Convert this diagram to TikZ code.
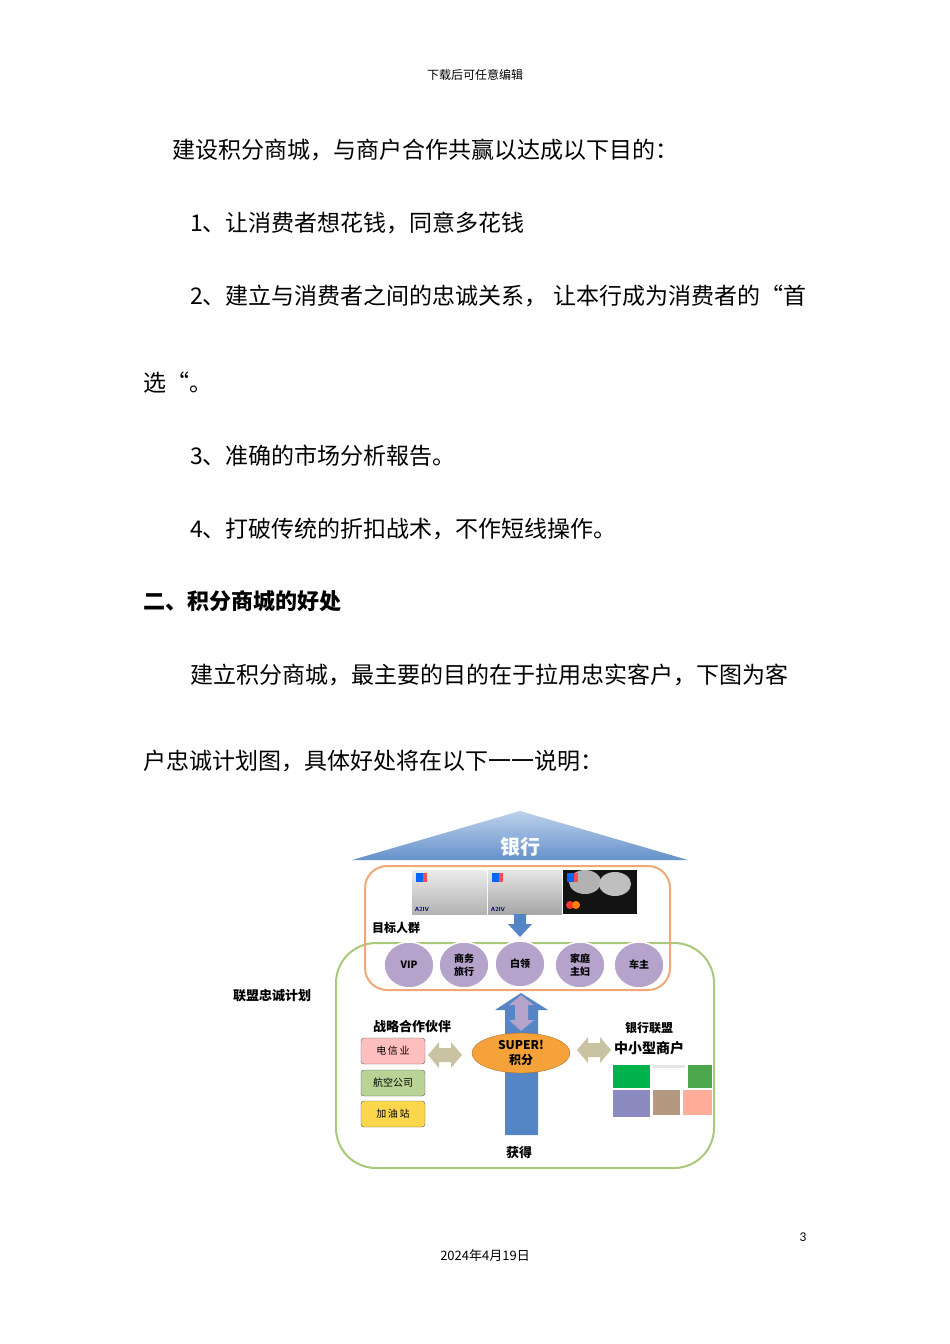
\documentclass[tikz,border=0pt]{standalone}
\usepackage{fontspec}
\setmainfont{Lato}
\newfontfamily\cjk{Noto Sans CJK SC}
\usetikzlibrary{shapes.geometric}
\definecolor{tblue}{HTML}{8FB3DE}
\definecolor{aorange}{HTML}{F0A878}
\definecolor{agreen}{HTML}{A8C87A}
\definecolor{elfill}{HTML}{B5A3CC}
\definecolor{ablue}{HTML}{5585C5}
\definecolor{beige}{HTML}{C9C3A2}
\definecolor{sorange}{HTML}{F6A23A}
\tikzset{
 body/.style={anchor=west,font=\cjk\fontsize{23}{26}\selectfont,inner sep=0},
 pill/.style={ellipse,draw=white,line width=1.5pt,fill=elfill,minimum width=50pt,minimum height=46pt,font=\cjk\bfseries\fontsize{10}{13}\selectfont,align=center,inner sep=0},
 pbox/.style={draw=gray!70!black,rounded corners=3pt,minimum width=64pt,minimum height=26pt,font=\cjk\fontsize{10}{12}\selectfont,inner sep=0},
 lbl/.style={font=\cjk\bfseries\fontsize{13}{15}\selectfont,inner sep=0},
}
\begin{document}
\begin{tikzpicture}[x=1pt,y=-1pt]
\useasboundingbox (0,0) rectangle (950,1344);
\node (hdr) at (475,75) {\cjk\fontsize{12}{14}\selectfont 下载后可任意编辑};
\node[body] (l1) at (172,150) {建设积分商城，与商户合作共赢以达成以下目的：};
\node[body] (l2) at (190,223) {1、让消费者想花钱，同意多花钱};
\node[body] (l3) at (190,296) {2、建立与消费者之间的忠诚关系， 让本行成为消费者的“首};
\node[body] (l4) at (143,383) {选“。};
\node[body] (l5) at (190,456) {3、准确的市场分析報告。};
\node[body] (l6) at (190,529) {4、打破传统的折扣战术，不作短线操作。};
\node[body,font=\cjk\bfseries\fontsize{22}{26}\selectfont] (h2) at (143,601) {二、积分商城的好处};
\node[body] (l7) at (190,675) {建立积分商城，最主要的目的在于拉用忠实客户，下图为客};
\node[body] (l8) at (143,761) {户忠诚计划图，具体好处将在以下一一说明：};
\node (pg) at (803,1237) {\fontsize{12}{14}\selectfont 3};
\node (dt) at (485,1256) {\cjk\fontsize{13}{15}\selectfont 2024年4月19日};
% diagram
\draw[draw=agreen,line width=2pt,rounded corners=40pt] (336,943) rectangle (714,1168);
\draw[draw=aorange,line width=2pt,rounded corners=22pt] (365,866) rectangle (670,990);
\shade[top color=tblue!60,bottom color=ablue!90] (352,860) -- (520,811) -- (688,860) -- cycle;
\node[text=white,font=\cjk\bfseries\fontsize{20}{22}\selectfont] (bank) at (520,847) {银行};
% cards
\shade[top color=gray!15,bottom color=gray!60] (412,870) rectangle (487,914);
\shade[top color=gray!20,bottom color=gray!70] (488,870) rectangle (562,914);
\fill[gray!15!black] (563,870) rectangle (637,914);
\fill[gray!60] (585,882) ellipse (16pt and 12pt);
\fill[gray!50] (615,884) ellipse (16pt and 12pt);
\foreach \x in {413,489,564}{\fill[blue!60!cyan] (\x+3,873) rectangle (\x+14,882); \fill[red!70] (\x+10,873) rectangle (\x+14,882);}
\node[font=\sffamily\bfseries\fontsize{6}{6}\selectfont,text=blue!50!black] (v1) at (422,909) {A2IV};
\node[font=\sffamily\bfseries\fontsize{6}{6}\selectfont,text=blue!50!black] (v2) at (498,909) {A2IV};
\fill[red!80] (570,905) circle (4pt); \fill[orange] (576,905) circle (4pt);
\fill[ablue] (514,914) -- (526,914) -- (526,924) -- (532,924) -- (520,937) -- (508,924) -- (514,924) -- cycle;
\node[lbl,anchor=west,font=\cjk\bfseries\fontsize{12}{14}\selectfont] (tg) at (372,928) {目标人群};
\node[pill] (p1) at (409,965) {VIP};
\node[pill] (p2) at (464,965) {商务\\旅行};
\node[pill] (p3) at (520,964) {白领};
\node[pill] (p4) at (580,965) {家庭\\主妇};
\node[pill] (p5) at (639,965) {车主};
\node[lbl] (ally) at (272,996) {联盟忠诚计划};
% big arrow
\fill[ablue] (505,1135) -- (505,1010) -- (495,1010) -- (521,993) -- (548,1010) -- (538,1010) -- (538,1135) -- cycle;
\fill[elfill] (515,1005) -- (509,1005) -- (521,995) -- (534,1005) -- (528,1005) -- (528,1020) -- (534,1020) -- (521,1031) -- (509,1020) -- (515,1020) -- cycle;
\node[ellipse,fill=sorange,draw=sorange!70!black,minimum width=98pt,minimum height=40pt,align=center,inner sep=0,font=\cjk\bfseries\fontsize{12}{15}\selectfont] (sup) at (521,1053) {SUPER!\\积分};
\node[lbl] (zl) at (412,1027) {战略合作伙伴};
\node[pbox,fill=red!25] (b1) at (393,1051) {电\,信\,业};
\node[pbox,fill=agreen!80] (b2) at (393,1083) {航空公司};
\node[pbox,fill=yellow!60!orange!70] (b3) at (393,1114) {加\,油\,站};
\foreach \cx/\cy in {445/1055, 594/1050}{
 \fill[beige] (\cx-17,\cy) -- (\cx-6,\cy-13) -- (\cx-6,\cy-7) -- (\cx+6,\cy-7) -- (\cx+6,\cy-13) -- (\cx+17,\cy) -- (\cx+6,\cy+13) -- (\cx+6,\cy+7) -- (\cx-6,\cy+7) -- (\cx-6,\cy+13) -- cycle;}
\node[lbl,font=\cjk\bfseries\fontsize{12}{14}\selectfont] (yh) at (649,1028) {银行联盟};
\node[lbl,font=\cjk\bfseries\fontsize{14}{16}\selectfont] (zx) at (649,1048) {中小型商户};
\fill[green!40!teal] (613,1065) rectangle (650,1088);
\fill[gray!20] (653,1065) rectangle (685,1068);
\fill[green!50!black!70] (688,1065) rectangle (712,1088);
\fill[blue!30!gray!70] (613,1090) rectangle (650,1117);
\fill[brown!50!gray!80] (653,1090) rectangle (680,1115);
\fill[orange!40!red!40] (683,1090) rectangle (712,1115);
\node[lbl] (hd) at (519,1153) {获得};
\end{tikzpicture}
\end{document}
